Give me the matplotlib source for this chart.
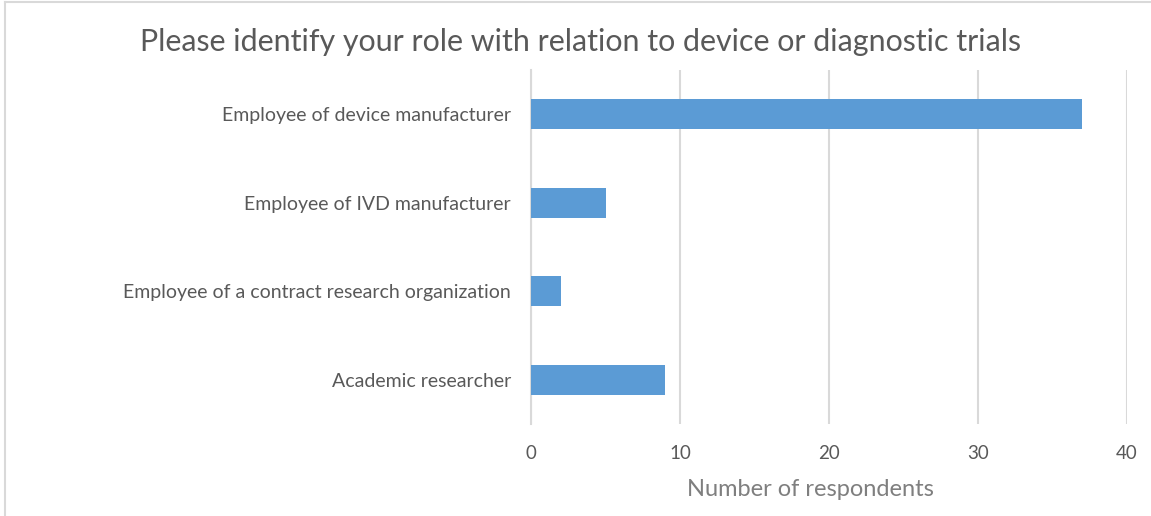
import matplotlib
matplotlib.use('Agg')
import matplotlib.pyplot as plt
from matplotlib.lines import Line2D

roles = ['Employee of device manufacturer',
         'Employee of IVD manufacturer',
         'Employee of a contract research organization',
         'Academic researcher']
counts = [37, 5, 2, 9]
x_ticks = [0, 10, 20, 30, 40]

plt.rcParams['font.family'] = ['Lato', 'DejaVu Sans']
text_color = '#595959'

fig = plt.figure(figsize=(11.51, 5.16), dpi=100)
ax = fig.add_axes([531 / 1151, 1 - 424 / 516, 596 / 1151, 354 / 516])

ypos = list(range(len(roles)))[::-1]
ax.barh(ypos, counts, height=0.34, color='#5B9BD5', zorder=3)

ax.set_xlim(0, 40)
ax.set_ylim(-0.5, len(roles) - 0.5)
ax.set_xticks(x_ticks)
ax.set_xticklabels([str(t) for t in x_ticks], fontsize=13.5, color=text_color)
ax.set_yticks(ypos)
ax.set_yticklabels(roles, fontsize=14, color=text_color)
ax.tick_params(axis='both', length=0)
ax.tick_params(axis='x', pad=15)
ax.tick_params(axis='y', pad=14.5)

ax.grid(axis='x', color='#d9d9d9', linewidth=1.5, zorder=0)
for side in ['top', 'right', 'bottom']:
    ax.spines[side].set_visible(False)
ax.spines['left'].set_color('#d9d9d9')
ax.spines['left'].set_linewidth(1.5)

# axis title sits a little left of the plot centre
ax.set_xlabel('Number of respondents', fontsize=17, color='#7f7f7f')
ax.xaxis.label.set_va('center')
ax.xaxis.set_label_coords((810 - 531) / 596, -(490 - 424) / 354)

fig.text(0.5 * (140 + 1022) / 1151, 1 - 42 / 516,
         'Please identify your role with relation to device or diagnostic trials',
         fontsize=21.9, color=text_color, ha='center', va='center')

# thin frame on the left and top edges of the chart area
fig.add_artist(Line2D([4.5 / 1151, 4.5 / 1151], [0, 1 - 2 / 516],
                      color='#d9d9d9', linewidth=1.5))
fig.add_artist(Line2D([4.5 / 1151, 1], [1 - 2 / 516, 1 - 2 / 516],
                      color='#d9d9d9', linewidth=1.5))

fig.savefig('out.png', dpi=100, facecolor='white')
